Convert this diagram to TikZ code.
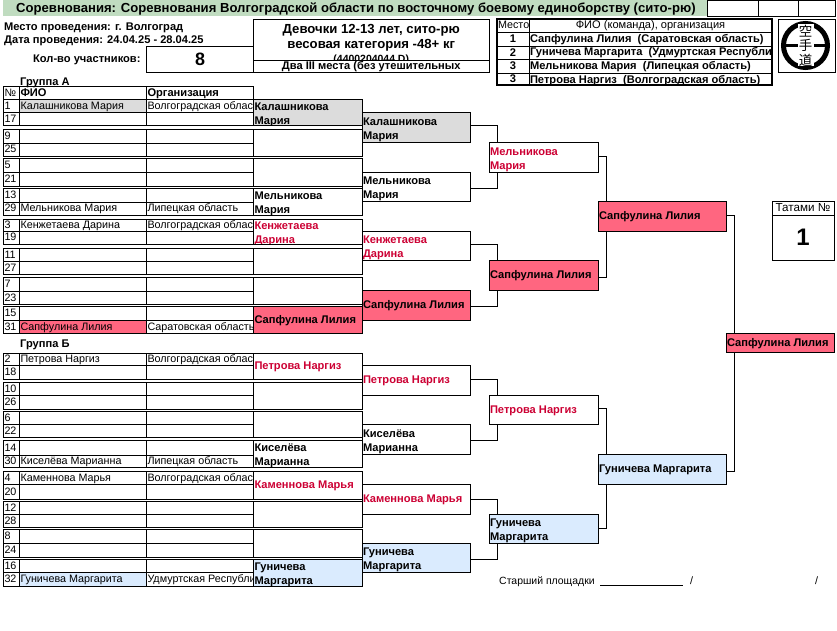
\documentclass[tikz,border=0pt]{standalone}
\usepackage{fontspec}
\setmainfont{Liberation Sans}
\newfontfamily\cjk{Noto Sans CJK JP}
\definecolor{hdrgreen}{HTML}{C0DCC0}
\definecolor{gry}{HTML}{DCDCDC}
\definecolor{pnk}{HTML}{FF6680}
\definecolor{blu}{HTML}{DAEBFE}
\definecolor{nmred}{HTML}{CC0033}
\newcommand{\regfont}{\fontsize{10.8}{14}\selectfont}
\newcommand{\boldfont}{\bfseries\fontsize{11.15}{14}\selectfont}
\tikzset{
  wire/.style={line width=0.95bp},
  cell/.style 2 args={draw, wire, anchor=north west, inner sep=0pt, outer sep=0pt, minimum width=#1bp, minimum height=#2bp},
  txt/.style 2 args={path picture={\node[anchor=base west, minimum width=0pt, minimum height=0pt, inner sep=0pt, xshift=1bp, yshift=-3.5bp, font=\regfont, #1] at (path picture bounding box.west) {#2};}},
  ctxt/.style 2 args={path picture={\node[anchor=center, align=center, minimum width=0pt, minimum height=0pt, inner sep=0pt, font=\regfont, #1] at (path picture bounding box.center) {#2};}},
  twoln/.style={align=left, anchor=west, yshift=1bp},
  winner/.style={font=\boldfont},
  loser/.style={font=\boldfont, text=nmred},
  plain/.style={anchor=base west, inner sep=0pt, font=\regfont},
  strong/.style={anchor=base west, inner sep=0pt, font=\boldfont}
}
% one line of the seed list: name, top, height, number, fill, fio, organisation
\newcommand{\seedrow}[7]{
  \node[cell={16}{#3}, txt={}{#4}] (no#1) at (3.5,#2) {};
  \node[cell={127}{#3}, fill=#5, txt={}{#6}] (fio#1) at (19.5,#2) {};
  \node[cell={107}{#3}, txt={}{#7}] (org#1) at (146.5,#2) {};
}
\begin{document}
\begin{tikzpicture}[x=1bp,y=-1bp]
  \useasboundingbox (0,0) rectangle (837,631);
  % header
  \node[anchor=north west, fill=hdrgreen, inner sep=0pt, minimum width=704bp, minimum height=16bp] (title) at (3,0) {};
  \node[anchor=base west, inner sep=0pt, font=\bfseries\fontsize{13.15}{14}\selectfont] (titletext) at (16,13) {Соревнования: Соревнования Волгоградской области по восточному боевому единоборству (сито-рю)};
  \node[cell={51}{15.5}] (top1) at (707,0.5) {};
  \node[cell={40}{15.5}] (top2) at (758,0.5) {};
  \node[cell={37}{15.5}] (top3) at (798,0.5) {};
  \node[strong] (place) at (4,31) {Место проведения: г. Волгоград};
  \node[strong] (dates) at (4,44) {Дата проведения: 24.04.25 - 28.04.25};
  \node[strong] (countlabel) at (33,63) {Кол-во участников:};
  \node[cell={107}{26}, ctxt={font=\bfseries\fontsize{18}{20}\selectfont}{8}] (count) at (146.5,46) {};
  \node[cell={235.5}{41}, ctxt={yshift=-5bp, font=\bfseries\fontsize{13.2}{15}\selectfont}{Девочки 12-13 лет, сито-рю\\весовая категория -48+ кг\\{\fontsize{10.5}{15}\selectfont (4400204044 D)}}] (category) at (253.5,19) {};
  \node[cell={235.5}{12}, ctxt={yshift=-1bp, font=\boldfont}{Два III места (без утешительных}] (rule) at (253.5,60) {};
  % places
  \node[cell={32}{13}, txt={}{Место}] (pl0) at (497,19) {};
  \node[cell={243}{13}, ctxt={font=\fontsize{11.1}{14}\selectfont}{ФИО (команда), организация}] (fio0) at (529,19) {};
  \node[cell={32}{14}, ctxt={font=\boldfont}{1}] (pl1) at (497,32) {};
  \node[cell={243}{14}, txt={winner}{Сапфулина Лилия\ \ (Саратовская область)}] (fio1) at (529,32) {};
  \node[cell={32}{13}, ctxt={font=\boldfont}{2}] (pl2) at (497,46) {};
  \node[cell={243}{13}, txt={winner}{Гуничева Маргарита\ \ (Удмуртская Республика)}] (fio2) at (529,46) {};
  \node[cell={32}{14}, ctxt={font=\boldfont}{3}] (pl3) at (497,59) {};
  \node[cell={243}{14}, txt={winner}{Мельникова Мария\ \ (Липецкая область)}] (fio3) at (529,59) {};
  \node[cell={32}{12}, ctxt={font=\boldfont}{3}] (pl4) at (497,73) {};
  \node[cell={243}{12}, txt={winner, yshift=-1.5bp}{Петрова Наргиз\ \ (Волгоградская область)}] (fio4) at (529,73) {};
  \node[cell={275}{66}, line width=1.8bp] (placeframe) at (497,19) {};
  % logo
  \node[cell={57}{53}] (logo) at (778,19) {};
  \node[circle, draw, line width=5bp, minimum size=44bp, inner sep=0pt] (ring) at (805.5,45.5) {};
  \draw[line width=3.5bp] (ring.west) -- (ring.east);
  \node[fill=white, inner sep=0pt, minimum width=16bp, minimum height=42bp] (strip) at (ring.center) {};
  \node[align=center, inner sep=0pt, font=\cjk\fontsize{13.5}{14.5}\selectfont] (kanji) at (ring.center) {空\\手\\道};
  % group A
  \node[strong] (groupa) at (20,86) {Группа А};
  \node[cell={16}{13.5}, txt={}{№}] (nohead) at (3.5,86) {};
  \node[cell={127}{13.5}, txt={winner}{ФИО}] (fiohead) at (19.5,86) {};
  \node[cell={107}{13.5}, txt={winner}{Организация}] (orghead) at (146.5,86) {};
  \seedrow{1}{99.5}{12.5}{1}{gry}{Калашникова Мария}{Волгоградская область}
  \seedrow{17}{112}{13.5}{17}{white}{}{}
  \seedrow{9}{129}{14}{9}{white}{}{}
  \seedrow{25}{143}{13}{25}{white}{}{}
  \seedrow{5}{158}{14}{5}{white}{}{}
  \seedrow{21}{172}{14}{21}{white}{}{}
  \seedrow{13}{188}{14}{13}{white}{}{}
  \seedrow{29}{202}{13}{29}{white}{Мельникова Мария}{Липецкая область}
  \seedrow{3}{219}{12}{3}{white}{Кенжетаева Дарина}{Волгоградская область}
  \seedrow{19}{231}{13}{19}{white}{}{}
  \seedrow{11}{248}{13}{11}{white}{}{}
  \seedrow{27}{261}{13}{27}{white}{}{}
  \seedrow{7}{277}{14}{7}{white}{}{}
  \seedrow{23}{291}{13}{23}{white}{}{}
  \seedrow{15}{306}{14}{15}{white}{}{}
  \seedrow{31}{320}{13}{31}{pnk}{Сапфулина Лилия}{Саратовская область}
  % group B
  \node[strong] (groupb) at (20,347) {Группа Б};
  \seedrow{2}{353}{12}{2}{white}{Петрова Наргиз}{Волгоградская область}
  \seedrow{18}{365}{14}{18}{white}{}{}
  \seedrow{10}{382}{13}{10}{white}{}{}
  \seedrow{26}{395}{14}{26}{white}{}{}
  \seedrow{6}{411}{13}{6}{white}{}{}
  \seedrow{22}{424}{13}{22}{white}{}{}
  \seedrow{14}{440}{15}{14}{white}{}{}
  \seedrow{30}{455}{12}{30}{white}{Киселёва Марианна}{Липецкая область}
  \seedrow{4}{471}{13}{4}{white}{Каменнова Марья}{Волгоградская область}
  \seedrow{20}{484}{15}{20}{white}{}{}
  \seedrow{12}{501}{13}{12}{white}{}{}
  \seedrow{28}{514}{13}{28}{white}{}{}
  \seedrow{8}{529}{14}{8}{white}{}{}
  \seedrow{24}{543}{14}{24}{white}{}{}
  \seedrow{16}{559}{13}{16}{white}{}{}
  \seedrow{32}{572}{14}{32}{blu}{Гуничева Маргарита}{Удмуртская Республика}
  % first round
  \node[cell={108.5}{26}, fill=gry, txt={winner,twoln}{Калашникова\\Мария}] (r1a) at (253.5,99.5) {};
  \node[cell={108.5}{27}] (r1b) at (253.5,129) {};
  \node[cell={108.5}{28}] (r1c) at (253.5,158) {};
  \node[cell={108.5}{27}, txt={winner,twoln}{Мельникова\\Мария}] (r1d) at (253.5,188) {};
  \node[cell={108.5}{25}, txt={loser,twoln}{Кенжетаева\\Дарина}] (r1e) at (253.5,219) {};
  \node[cell={108.5}{26}] (r1f) at (253.5,248) {};
  \node[cell={108.5}{27}] (r1g) at (253.5,277) {};
  \node[cell={108.5}{27}, fill=pnk, txt={winner}{Сапфулина Лилия}] (r1h) at (253.5,306) {};
  \node[cell={108.5}{26}, txt={loser}{Петрова Наргиз}] (r1i) at (253.5,353) {};
  \node[cell={108.5}{27}] (r1j) at (253.5,382) {};
  \node[cell={108.5}{26}] (r1k) at (253.5,411) {};
  \node[cell={108.5}{27}, txt={winner,twoln}{Киселёва\\Марианна}] (r1l) at (253.5,440) {};
  \node[cell={108.5}{28}, txt={loser}{Каменнова Марья}] (r1m) at (253.5,471) {};
  \node[cell={108.5}{26}] (r1n) at (253.5,501) {};
  \node[cell={108.5}{28}] (r1o) at (253.5,529) {};
  \node[cell={108.5}{27}, fill=blu, txt={winner,twoln}{Гуничева\\Маргарита}] (r1p) at (253.5,559) {};
  % second round
  \node[cell={108}{30}, fill=gry, txt={winner,twoln}{Калашникова\\Мария}] (r2a) at (362,112) {};
  \node[cell={108}{29}, txt={winner,twoln}{Мельникова\\Мария}] (r2b) at (362,172) {};
  \node[cell={108}{29}, txt={loser,twoln}{Кенжетаева\\Дарина}] (r2c) at (362,231) {};
  \node[cell={108}{30}, fill=pnk, txt={winner}{Сапфулина Лилия}] (r2d) at (362,290) {};
  \node[cell={108}{30}, txt={loser}{Петрова Наргиз}] (r2e) at (362,365) {};
  \node[cell={108}{30}, txt={winner,twoln}{Киселёва\\Марианна}] (r2f) at (362,424) {};
  \node[cell={108}{30}, txt={loser}{Каменнова Марья}] (r2g) at (362,484) {};
  \node[cell={108}{29}, fill=blu, txt={winner,twoln}{Гуничева\\Маргарита}] (r2h) at (362,543) {};
  % semifinal feeders
  \node[cell={109}{30}, txt={loser,twoln}{Мельникова\\Мария}] (r3a) at (489,142) {};
  \node[cell={109}{30}, fill=pnk, txt={winner}{Сапфулина Лилия}] (r3b) at (489,260) {};
  \node[cell={109}{29}, txt={loser}{Петрова Наргиз}] (r3c) at (489,395) {};
  \node[cell={109}{29}, fill=blu, txt={winner,twoln}{Гуничева\\Маргарита}] (r3d) at (489,514) {};
  \node[cell={128}{30}, fill=pnk, txt={winner}{Сапфулина Лилия}] (r4a) at (598,201) {};
  \node[cell={128}{30}, fill=blu, txt={winner}{Гуничева Маргарита}] (r4b) at (598,454) {};
  \node[cell={108}{19}, fill=pnk, txt={winner}{Сапфулина Лилия}] (final) at (726,333) {};
  % connectors
  \draw[wire] ([yshift=2bp]r2a.east) -| ([xshift=8bp]r3a.north west);
  \draw[wire] ([yshift=-1.5bp]r2b.east) -| ([xshift=8bp]r3a.south west);
  \draw[wire] ([yshift=1.5bp]r2c.east) -| ([xshift=8bp]r3b.north west);
  \draw[wire] ([yshift=-1bp]r2d.east) -| ([xshift=8bp]r3b.south west);
  \draw[wire] ([yshift=1bp]r2e.east) -| ([xshift=8bp]r3c.north west);
  \draw[wire] ([yshift=-1bp]r2f.east) -| ([xshift=8bp]r3c.south west);
  \draw[wire] (r2g.east) -| ([xshift=8bp]r3d.north west);
  \draw[wire] ([yshift=-1.5bp]r2h.east) -| ([xshift=8bp]r3d.south west);
  \draw[wire] ([yshift=1bp]r3a.east) -| ([xshift=8bp]r4a.north west);
  \draw[wire] ([yshift=-2bp]r3b.east) -| ([xshift=8bp]r4a.south west);
  \draw[wire] ([yshift=1.5bp]r3c.east) -| ([xshift=8bp]r4b.north west);
  \draw[wire] (r3d.east) -| ([xshift=8bp]r4b.south west);
  \draw[wire] ([yshift=1bp]r4a.east) -| ([xshift=8bp]final.north west);
  \draw[wire] ([yshift=-2bp]r4b.east) -| ([xshift=8bp]final.south west);
  % tatami
  \node[cell={62}{14}, ctxt={font=\fontsize{11.7}{14}\selectfont}{Татами №}] (tatamilabel) at (772,201) {};
  \node[cell={62}{45}, ctxt={font=\bfseries\fontsize{24}{26}\selectfont}{1}] (tatami) at (772,215) {};
  % footer
  \node[plain, font=\fontsize{10.5}{14}\selectfont] (senior) at (499,584) {Старший площадки};
  \coordinate (signa) at (600,585);
  \coordinate (signb) at (683,585);
  \draw[wire] (signa) -- (signb);
  \node[plain] (slasha) at (690,584) {/};
  \node[plain] (slashb) at (815,584) {/};
\end{tikzpicture}
\end{document}
